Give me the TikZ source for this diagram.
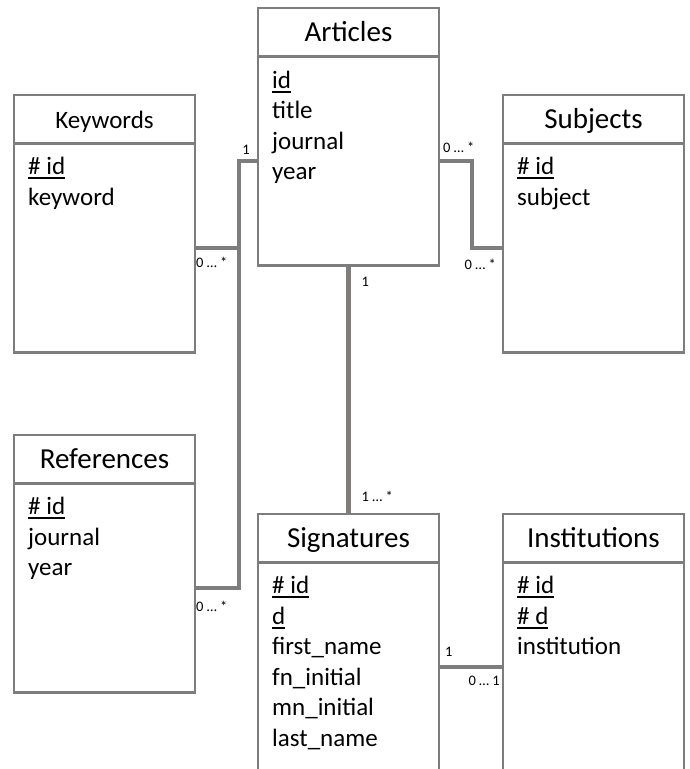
\documentclass[tikz,border=0pt]{standalone}
\usepackage{fontspec}
\setmainfont{Carlito}
\usetikzlibrary{positioning}
\definecolor{linegray}{RGB}{127,124,124}
\newcommand{\keyfield}[1]{\vtop{\hbox{#1}\kern2.5pt\hrule height 2pt}}

\begin{document}
\begin{tikzpicture}[x=1pt, y=-1pt,
	entity/.style = {draw=linegray, line width=2.5pt,
                   minimum width=181pt, inner sep=0pt, outer sep=0pt},
	entity title/.style = {entity, minimum height=48.5pt,
                   text height=18.5pt, text depth=0pt,
                   font=\fontsize{29}{34}\selectfont},
	entity body/.style = {entity, minimum height=209pt},
	fields/.style = {anchor=north west, align=left, inner sep=0pt,
                   font=\fontsize{25}{30.5}\selectfont},
	link/.style = {draw=linegray, line width=4.5pt},
	card/.style = {inner sep=0pt, font=\fontsize{14.5}{16}\selectfont}
	]
\useasboundingbox (0,0) rectangle (690,769);
\clip (0,0) rectangle (690,769);

% tables
\node[entity title, anchor=north west] (articles) at (258,8) {Articles};
\node[entity body, below=0pt of articles] (articles body) {};
\node[fields] (articles fields) at ([xshift=14pt, yshift=-11.5pt]articles body.north west)
	{\rule{0pt}{20pt}\keyfield{id}\\ title\\ journal\\ year};

\node[entity title, anchor=north west, font=\fontsize{25}{30}\selectfont] (keywords) at (14,95) {Keywords};
\node[entity body, below=0pt of keywords] (keywords body) {};
\node[fields] (keywords fields) at ([xshift=14pt, yshift=-11pt]keywords body.north west)
	{\rule{0pt}{20pt}\keyfield{\# id}\\ keyword};

\node[entity title, anchor=north west] (subjects) at (503,95) {Subjects};
\node[entity body, below=0pt of subjects] (subjects body) {};
\node[fields] (subjects fields) at ([xshift=14pt, yshift=-11pt]subjects body.north west)
	{\rule{0pt}{20pt}\keyfield{\# id}\\ subject};

\node[entity title, anchor=north west] (references) at (14,435) {References};
\node[entity body, below=0pt of references] (references body) {};
\node[fields] (references fields) at ([xshift=14pt, yshift=-11pt]references body.north west)
	{\rule{0pt}{20pt}\keyfield{\# id}\\ journal\\ year};

\node[entity title, anchor=north west] (signatures) at (258,514) {Signatures};
\node[entity body, below=0pt of signatures] (signatures body) {};
\node[fields] (signatures fields) at ([xshift=14pt, yshift=-11pt]signatures body.north west)
	{\rule{0pt}{20pt}\keyfield{\# id}\\ \keyfield{d}\\ first\_name\\ fn\_initial\\ mn\_initial\\ last\_name};

\node[entity title, anchor=north west] (institutions) at (503,514) {Institutions};
\node[entity body, below=0pt of institutions] (institutions body) {};
\node[fields] (institutions fields) at ([xshift=14pt, yshift=-11pt]institutions body.north west)
	{\rule{0pt}{20pt}\keyfield{\# id}\\ \keyfield{\# d}\\ institution};

% relations
\draw[link] (articles body.west) -- ++(-19,0) coordinate (left bus) |- (keywords body.east);
\draw[link] (left bus) |- (references body.east);
\draw[link] (articles body.east) -- ++(33,0) |- (subjects body.west);
\draw[link] (articles body.south) -- (signatures.north);
\draw[link] (signatures body.east) -- (institutions body.west);

% cardinalities
\node[card, anchor=south east] (card art kw) at ([xshift=-8pt, yshift=6pt]articles body.west) {1};
\node[card, anchor=north west] (card kw) at ([xshift=1pt, yshift=-9pt]keywords body.east) {0 … *};
\node[card, anchor=north west] (card ref) at ([xshift=1pt, yshift=-13pt]references body.east) {0 … *};
\node[card, anchor=south west] (card art subj) at ([xshift=4pt, yshift=8pt]articles body.east) {0 … *};
\node[card, anchor=north east] (card subj) at ([xshift=-7pt, yshift=-11pt]subjects body.west) {0 … *};
\node[card, anchor=north west] (card art sig) at ([xshift=13pt, yshift=-11pt]articles body.south) {1};
\node[card, anchor=south west] (card sig art) at ([xshift=13pt, yshift=12pt]signatures.north) {1 … *};
\node[card, anchor=south west] (card sig inst) at ([xshift=6pt, yshift=10pt]signatures body.east) {1};
\node[card, anchor=north east] (card inst) at ([xshift=-3pt, yshift=-9pt]institutions body.west) {0 … 1};
\end{tikzpicture}
\end{document}
